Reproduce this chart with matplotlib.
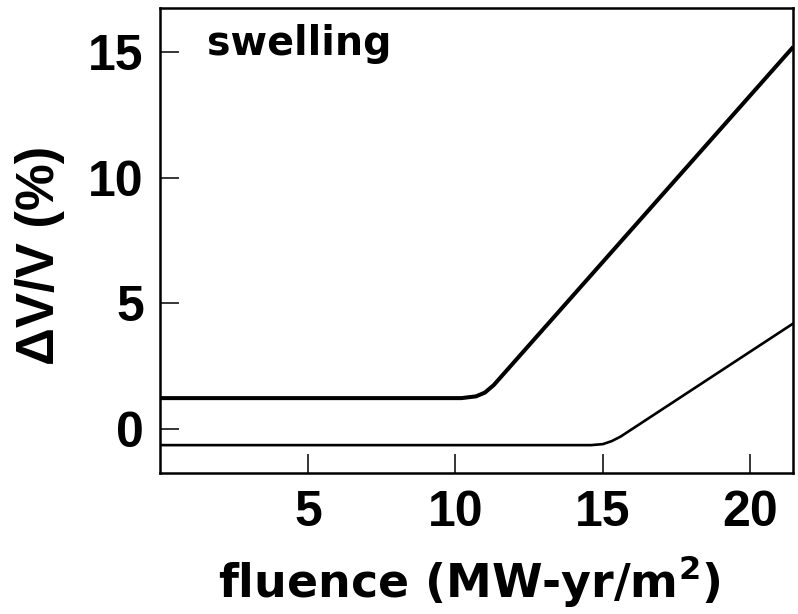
import matplotlib
matplotlib.use("Agg")
import matplotlib.pyplot as plt

# values
upper_x = [0.0, 10.2, 10.7, 11.0, 11.3, 21.45]
upper_y = [1.23, 1.23, 1.30, 1.45, 1.75, 15.2]
lower_x = [0.0, 14.6, 15.0, 15.3, 15.6, 21.45]
lower_y = [-0.64, -0.64, -0.60, -0.48, -0.30, 4.2]
xticks = [5, 10, 15, 20]
yticks = [0, 5, 10, 15]

# wide lettering for the words, narrower digits for the tick labels
TEXT_FONT = ["DejaVu Sans"]
TICK_FONT = ["Liberation Sans", "DejaVu Sans"]
plt.rcParams["font.family"] = TEXT_FONT
plt.rcParams["font.weight"] = "bold"
plt.rcParams["axes.labelweight"] = "bold"
plt.rcParams["mathtext.fontset"] = "dejavusans"
plt.rcParams["mathtext.default"] = "bf"

fig = plt.figure(figsize=(7.98, 6.14), dpi=100)
ax = fig.add_axes([0.201, 0.2296, 0.793, 0.7574])

ax.plot(upper_x, upper_y, color="black", linewidth=2.9, solid_capstyle="butt")
ax.plot(lower_x, lower_y, color="black", linewidth=1.9, solid_capstyle="butt")

ax.set_xlim(0, 21.45)
ax.set_ylim(-1.75, 16.75)
ax.set_xticks(xticks)
ax.set_yticks(yticks)
ax.tick_params(direction="in", length=14, width=1.1, labelsize=36)
ax.tick_params(axis="x", pad=12.5)
ax.tick_params(axis="y", pad=12)
for lab in ax.get_xticklabels() + ax.get_yticklabels():
    lab.set_family(TICK_FONT)
for s in ax.spines.values():
    s.set_linewidth(1.8)

ax.set_xlabel("fluence (MW-yr/m$^{2}$)", fontsize=33, va="baseline")
ax.xaxis.set_label_coords(0.488, -0.267)
ax.set_ylabel("ΔV/V (%)", fontsize=38, va="center", family=TICK_FONT)
ax.yaxis.set_label_coords(-0.19, 0.467)
ax.text(0.073, 0.899, "swelling", transform=ax.transAxes, fontsize=28.5,
        ha="left", va="baseline")

fig.savefig("out.png", dpi=100, facecolor="white")
